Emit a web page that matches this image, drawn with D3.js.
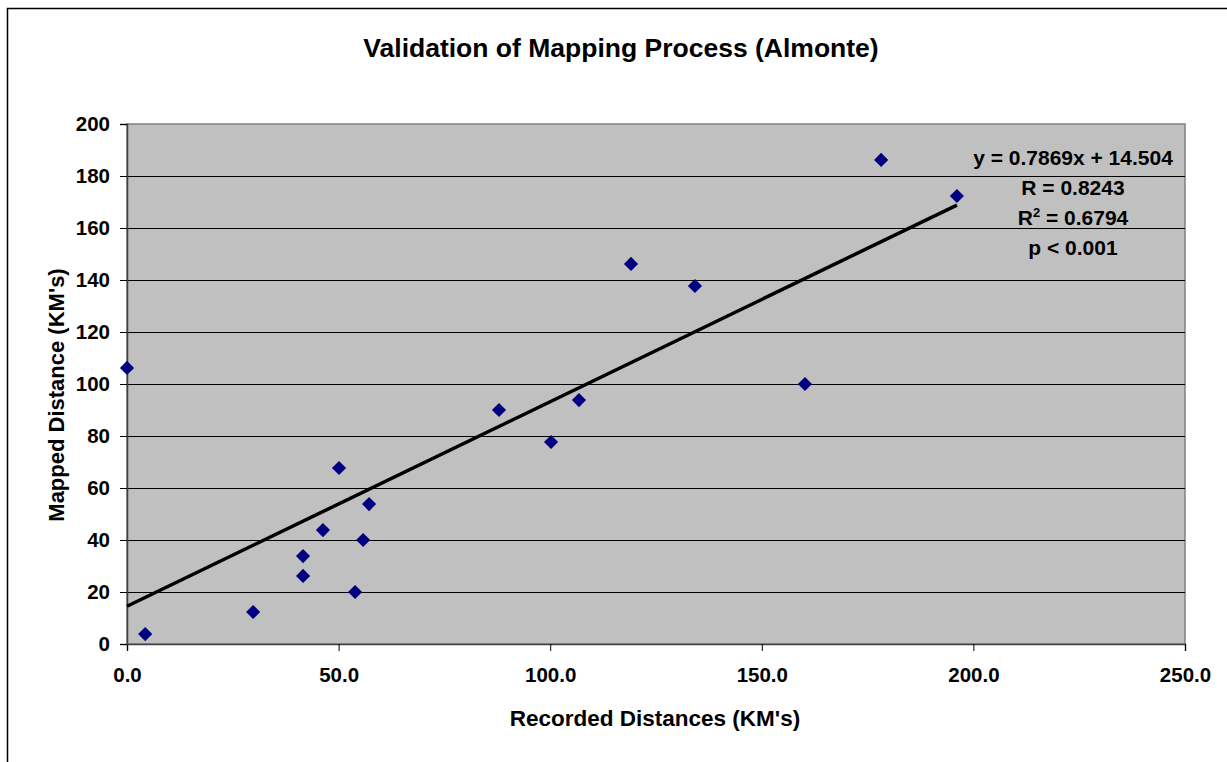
<!DOCTYPE html>
<html>
<head>
<meta charset="utf-8">
<script src="https://cdn.jsdelivr.net/npm/d3@7"></script>
<style>
  body { margin: 0; background: #fff; }
  text { font-family: "Liberation Sans", Arial, sans-serif; font-weight: bold; fill: #000; }
</style>
</head>
<body>
<div class="chart"></div>
<script>
// data
const recorded = [0, 4.3, 29.8, 41.6, 41.6, 46.3, 50.1, 53.9, 55.8, 57.2, 87.9, 100.2, 106.8, 119.1, 134.2, 160.2, 178.2, 196.1];
const mapped   = [106.2, 3.8, 12.3, 33.8, 26.2, 43.8, 67.7, 20, 40, 53.8, 90, 77.7, 93.8, 146.2, 137.7, 100, 186.2, 172.3];
const xTicks = [0, 50, 100, 150, 200, 250];
const yTicks = [0, 20, 40, 60, 80, 100, 120, 140, 160, 180, 200];
const slope = 0.7869, intercept = 14.504;
const statLines = ["y = 0.7869x + 14.504", "R = 0.8243", "R² = 0.6794", "p < 0.001"];

// page layout
const w = 1227;
const h = 762;
const plot = {left: 127, top: 124, right: 1185, bottom: 644};

const svg = d3.select(".chart")
              .append("svg")
              .attr("width", w)
              .attr("height", h);

// chart frame
svg.append("rect")
   .attr("x", 7.5)
   .attr("y", 8.5)
   .attr("width", w + 20)
   .attr("height", h + 20)
   .attr("fill", "none")
   .attr("stroke", "#000")
   .attr("stroke-width", 1.5);

const xScale = d3.scaleLinear()
                 .domain([0, 250])
                 .range([plot.left, plot.right]);

const yScale = d3.scaleLinear()
                 .domain([0, 200])
                 .range([plot.bottom, plot.top]);

// grey plot area
svg.append("rect")
   .attr("x", plot.left)
   .attr("y", plot.top)
   .attr("width", plot.right - plot.left)
   .attr("height", plot.bottom - plot.top)
   .attr("fill", "#c0c0c0")
   .attr("stroke", "#808080")
   .attr("stroke-width", 1.5);

// gridlines
svg.append("g").selectAll("line")
   .data(yTicks.filter(d => d > 0 && d < 200))
   .enter()
   .append("line")
   .attr("x1", plot.left)
   .attr("x2", plot.right)
   .attr("y1", d => Math.round(yScale(d)) + 0.5)
   .attr("y2", d => Math.round(yScale(d)) + 0.5)
   .attr("stroke", "#000")
   .attr("stroke-width", 1);

// axes
const xAxis = svg.append("g")
                 .attr("transform", `translate(0,${plot.bottom})`)
                 .call(d3.axisBottom(xScale).tickValues(xTicks).tickFormat(d3.format(".1f")).tickSizeOuter(0).tickSize(7).tickPadding(16));

const yAxis = svg.append("g")
                 .attr("transform", `translate(${plot.left},0)`)
                 .call(d3.axisLeft(yScale).tickValues(yTicks).tickSizeOuter(0).tickSize(7).tickPadding(10));

[xAxis, yAxis].forEach(ax => {
    ax.select(".domain").attr("stroke", "#404040").attr("stroke-width", 1.5);
    ax.selectAll(".tick line").attr("stroke", "#000");
    ax.selectAll("text").style("font-size", "20.5px").attr("fill", "#000");
});

// trend line
svg.append("line")
   .attr("x1", xScale(0))
   .attr("y1", yScale(intercept))
   .attr("x2", xScale(d3.max(recorded)))
   .attr("y2", yScale(slope * d3.max(recorded) + intercept))
   .attr("stroke", "#000")
   .attr("stroke-width", 3.5);

// points
const diamond = d3.symbol().type(d3.symbolSquare).size(100);
svg.append("g").selectAll("path")
   .data(recorded.map((r, i) => ({x: r, y: mapped[i]})))
   .enter()
   .append("path")
   .attr("d", diamond)
   .attr("transform", d => `translate(${xScale(d.x)},${yScale(d.y)}) rotate(45)`)
   .attr("fill", "#000080");

// regression stats
const stats = svg.append("text")
                 .attr("text-anchor", "middle")
                 .style("font-size", "21px");
statLines.forEach((s, i) => {
    const t = stats.append("tspan")
                   .attr("x", 1073)
                   .attr("y", 165 + i * 30);
    if (s.startsWith("R²")) {
        t.append("tspan").text("R");
        t.append("tspan").attr("dy", -8).style("font-size", "13px").text("2");
        t.append("tspan").attr("dy", 8).text(s.slice(2));
    } else {
        t.text(s);
    }
});

// title and axis labels
svg.append("text")
   .attr("x", 621)
   .attr("y", 57)
   .attr("text-anchor", "middle")
   .style("font-size", "26.5px")
   .text("Validation of Mapping Process (Almonte)");

svg.append("text")
   .attr("x", 655)
   .attr("y", 726)
   .attr("text-anchor", "middle")
   .style("font-size", "22.5px")
   .text("Recorded Distances (KM's)");

svg.append("text")
   .attr("transform", "translate(64,395) rotate(-90)")
   .attr("text-anchor", "middle")
   .style("font-size", "22px")
   .text("Mapped Distance (KM's)");
</script>
</body>
</html>
